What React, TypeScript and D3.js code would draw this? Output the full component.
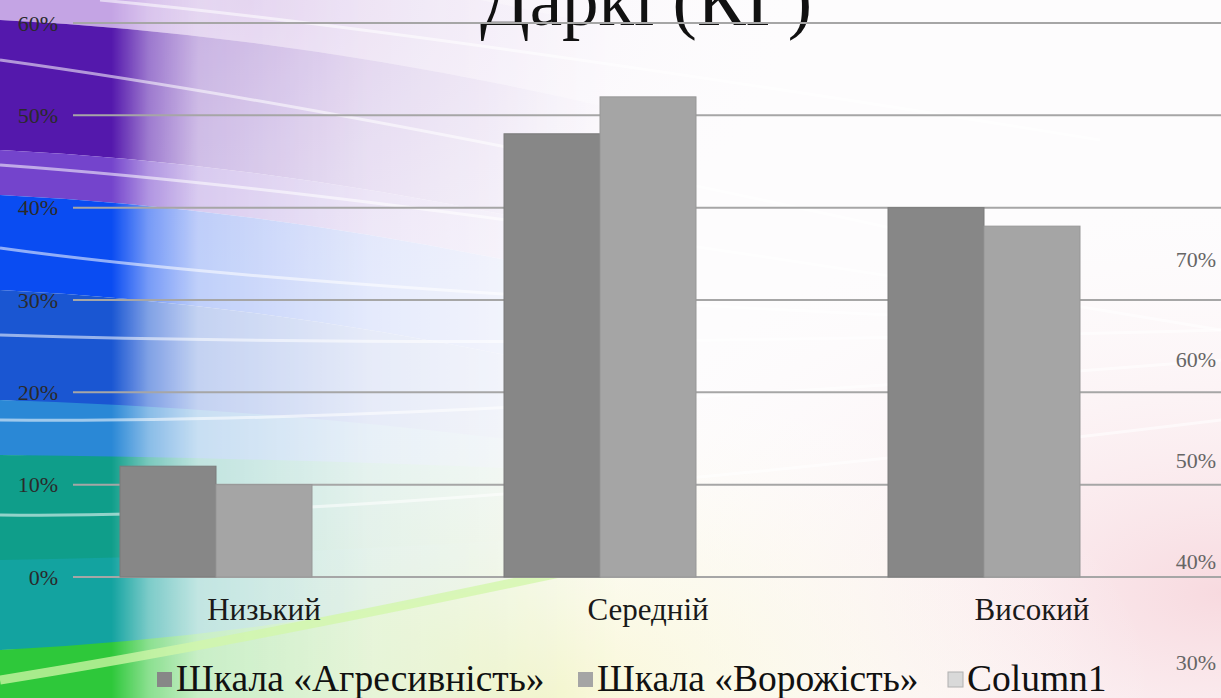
import { useEffect, useRef } from "react";
import * as d3 from "d3";

const categories = ["Низький", "Середній", "Високий"];
const seriesNames = ["Шкала «Агресивність»", "Шкала «Ворожість»", "Column1"];
const aggression = [0.12, 0.48, 0.4];
const hostility = [0.1, 0.52, 0.38];
const column1: (number | null)[] = [null, null, null];
const yTicks = [0, 0.1, 0.2, 0.3, 0.4, 0.5, 0.6];
// labels of the slide chart partly hidden behind this one
const backTicks = [0.7, 0.6, 0.5, 0.4, 0.3];
const title = "Даркі (КГ)";

const W = 1221;
const H = 698;
const colors = ["#878787", "#a5a5a5", "#d9d9d9"];
const font = "'Liberation Serif', 'DejaVu Serif', serif";

const App = () => {
  const svgRef = useRef<SVGSVGElement>(null);

  useEffect(() => {
    const svg = d3.select(svgRef.current);
    svg.selectAll("*").remove();

    const defs = svg.append("defs");

    // background: colour bands on the left fading into white
    const fade = defs.append("linearGradient").attr("id", "fade").attr("x1", 0).attr("x2", 1).attr("y1", 0).attr("y2", 0);
    [
      [0, 1], [0.18, 1], [0.24, 0.55], [0.32, 0.25], [0.6, 0.1], [1, 0],
    ].forEach(([o, a]) => fade.append("stop").attr("offset", o).attr("stop-color", "#fff").attr("stop-opacity", a));
    defs.append("mask").attr("id", "fadeMask").attr("maskContentUnits", "userSpaceOnUse")
      .append("rect").attr("x", 0).attr("y", 0).attr("width", 620).attr("height", H).attr("fill", "url(#fade)");

    const pink = defs.append("radialGradient").attr("id", "pink").attr("cx", 1).attr("cy", 0.85).attr("r", 0.6);
    pink.append("stop").attr("offset", 0).attr("stop-color", "#f7d6dc").attr("stop-opacity", 0.9);
    pink.append("stop").attr("offset", 1).attr("stop-color", "#fff").attr("stop-opacity", 0);
    const yellow = defs.append("radialGradient").attr("id", "yellow").attr("cx", 0.45).attr("cy", 1).attr("r", 0.5);
    yellow.append("stop").attr("offset", 0).attr("stop-color", "#f8f6cf").attr("stop-opacity", 0.9);
    yellow.append("stop").attr("offset", 1).attr("stop-color", "#fff").attr("stop-opacity", 0);
    const lav = defs.append("radialGradient").attr("id", "lav").attr("cx", 0.2).attr("cy", 0).attr("r", 0.5);
    lav.append("stop").attr("offset", 0).attr("stop-color", "#ece0f3").attr("stop-opacity", 0.9);
    lav.append("stop").attr("offset", 1).attr("stop-color", "#fff").attr("stop-opacity", 0);

    svg.append("rect").attr("width", W).attr("height", H).attr("fill", "#fdfcfd");
    svg.append("rect").attr("width", W).attr("height", H).attr("fill", "url(#lav)");
    svg.append("rect").attr("width", W).attr("height", H).attr("fill", "url(#pink)");
    svg.append("rect").attr("width", W).attr("height", H).attr("fill", "url(#yellow)");

    const bands = [
      { y0: -60, y1: 20, c: "#c4a4e4", b: 1 },
      { y0: 20, y1: 150, c: "#5418ac", b: 1 },
      { y0: 150, y1: 195, c: "#7444cc", b: 1 },
      { y0: 195, y1: 290, c: "#0a4cf2", b: 1 },
      { y0: 290, y1: 400, c: "#1a56d2", b: 1 },
      { y0: 400, y1: 455, c: "#2a88d6", b: 0.6 },
      { y0: 455, y1: 560, c: "#0f9e8a", b: 0.2 },
      { y0: 560, y1: 650, c: "#13a3a0", b: -0.3 },
      { y0: 650, y1: 780, c: "#2ec83a", b: -1 },
    ];
    const bandG = svg.append("g").attr("mask", "url(#fadeMask)");
    bands.forEach((b) => {
      const p = d3.path();
      p.moveTo(0, b.y0);
      p.quadraticCurveTo(300, b.y0 + 15 * b.b, 620, b.y0 + 90 * b.b);
      p.lineTo(620, b.y1 + 90 * b.b);
      p.quadraticCurveTo(300, b.y1 + 15 * b.b, 0, b.y1);
      p.closePath();
      bandG.append("path").attr("d", p.toString()).attr("fill", b.c);
    });

    // thin white streaks
    const streaks = [
      [100, 0, 420, 30, 1100, 140],
      [0, 60, 360, 110, 900, 230],
      [0, 165, 420, 195, 1221, 330],
      [0, 248, 300, 290, 1000, 320],
      [0, 335, 500, 350, 1221, 330],
      [0, 420, 400, 425, 1221, 360],
      [0, 515, 400, 520, 1221, 420],
    ];
    streaks.forEach((s) => {
      const p = d3.path();
      p.moveTo(s[0], s[1]);
      p.quadraticCurveTo(s[2], s[3], s[4], s[5]);
      svg.append("path").attr("d", p.toString()).attr("fill", "none")
        .attr("stroke", "#ffffff").attr("stroke-opacity", 0.55).attr("stroke-width", 3);
    });
    const gs = d3.path();
    gs.moveTo(0, 680);
    gs.quadraticCurveTo(250, 640, 620, 560);
    svg.append("path").attr("d", gs.toString()).attr("fill", "none")
      .attr("stroke", "#d2f7a8").attr("stroke-opacity", 0.75).attr("stroke-width", 9);

    // chart
    const x0 = d3.scaleBand().domain(categories).range([72, 1224]).paddingInner(0).paddingOuter(0);
    const x1 = d3.scaleBand().domain(seriesNames).range([0, x0.bandwidth()]).paddingInner(0).paddingOuter(0.5);
    const y = d3.scaleLinear().domain([0, 0.6]).range([577, 23]);
    const yBack = d3.scaleLinear().domain([0.3, 0.7]).range([662, 259]);

    svg.append("text").attr("x", 646).attr("y", 25).attr("text-anchor", "middle")
      .style("font-family", font).style("font-size", "73px").attr("fill", "#111").text(title);

    svg.append("g").selectAll("line").data(yTicks).enter().append("line")
      .attr("x1", 73).attr("x2", W).attr("y1", (d) => y(d)).attr("y2", (d) => y(d))
      .attr("stroke", "#a6a6a6").attr("stroke-width", 2);

    svg.append("g").selectAll("text").data(yTicks).enter().append("text")
      .attr("x", 58).attr("y", (d) => y(d)).attr("dy", "0.35em").attr("text-anchor", "end")
      .style("font-family", font).style("font-size", "22px").attr("fill", "#2a2a2a")
      .text((d) => d3.format(".0%")(d));

    svg.append("g").selectAll("text").data(backTicks).enter().append("text")
      .attr("x", 1216).attr("y", (d) => yBack(d)).attr("dy", "0.35em").attr("text-anchor", "end")
      .style("font-family", font).style("font-size", "22px").attr("fill", "#666")
      .text((d) => d3.format(".0%")(d));

    const series = [aggression, hostility, column1];
    series.forEach((vals, si) => {
      svg.append("g").selectAll("rect")
        .data(vals.map((v, i) => ({ v, c: categories[i] })).filter((d) => d.v !== null))
        .enter().append("rect")
        .attr("x", (d) => (x0(d.c) as number) + (x1(seriesNames[si]) as number))
        .attr("y", (d) => y(d.v as number))
        .attr("width", x1.bandwidth())
        .attr("height", (d) => 577 - y(d.v as number))
        .attr("fill", colors[si])
        .attr("stroke", d3.color(colors[si])!.darker(0.25).toString())
        .attr("stroke-width", 1);
    });

    svg.append("g").selectAll("text").data(categories).enter().append("text")
      .attr("x", (d) => (x0(d) as number) + x0.bandwidth() / 2).attr("y", 620).attr("text-anchor", "middle")
      .style("font-family", font).style("font-size", "31px").attr("fill", "#1a1a1a").text((d) => d);

    const legendX = [157, 578, 948];
    const lg = svg.append("g");
    seriesNames.forEach((name, i) => {
      lg.append("rect").attr("x", legendX[i]).attr("y", 672).attr("width", 15).attr("height", 15)
        .attr("fill", colors[i]).attr("stroke", i === 2 ? "#b0b0b0" : "none");
      lg.append("text").attr("x", legendX[i] + 19).attr("y", 691)
        .style("font-family", font).style("font-size", "37.5px").attr("fill", "#111").text(name);
    });
  }, []);

  return (
    <svg ref={svgRef} width={W} height={H} viewBox={`0 0 ${W} ${H}`}
      style={{ position: "absolute", left: 0, top: 0, display: "block" }} />
  );
};

export default App;
